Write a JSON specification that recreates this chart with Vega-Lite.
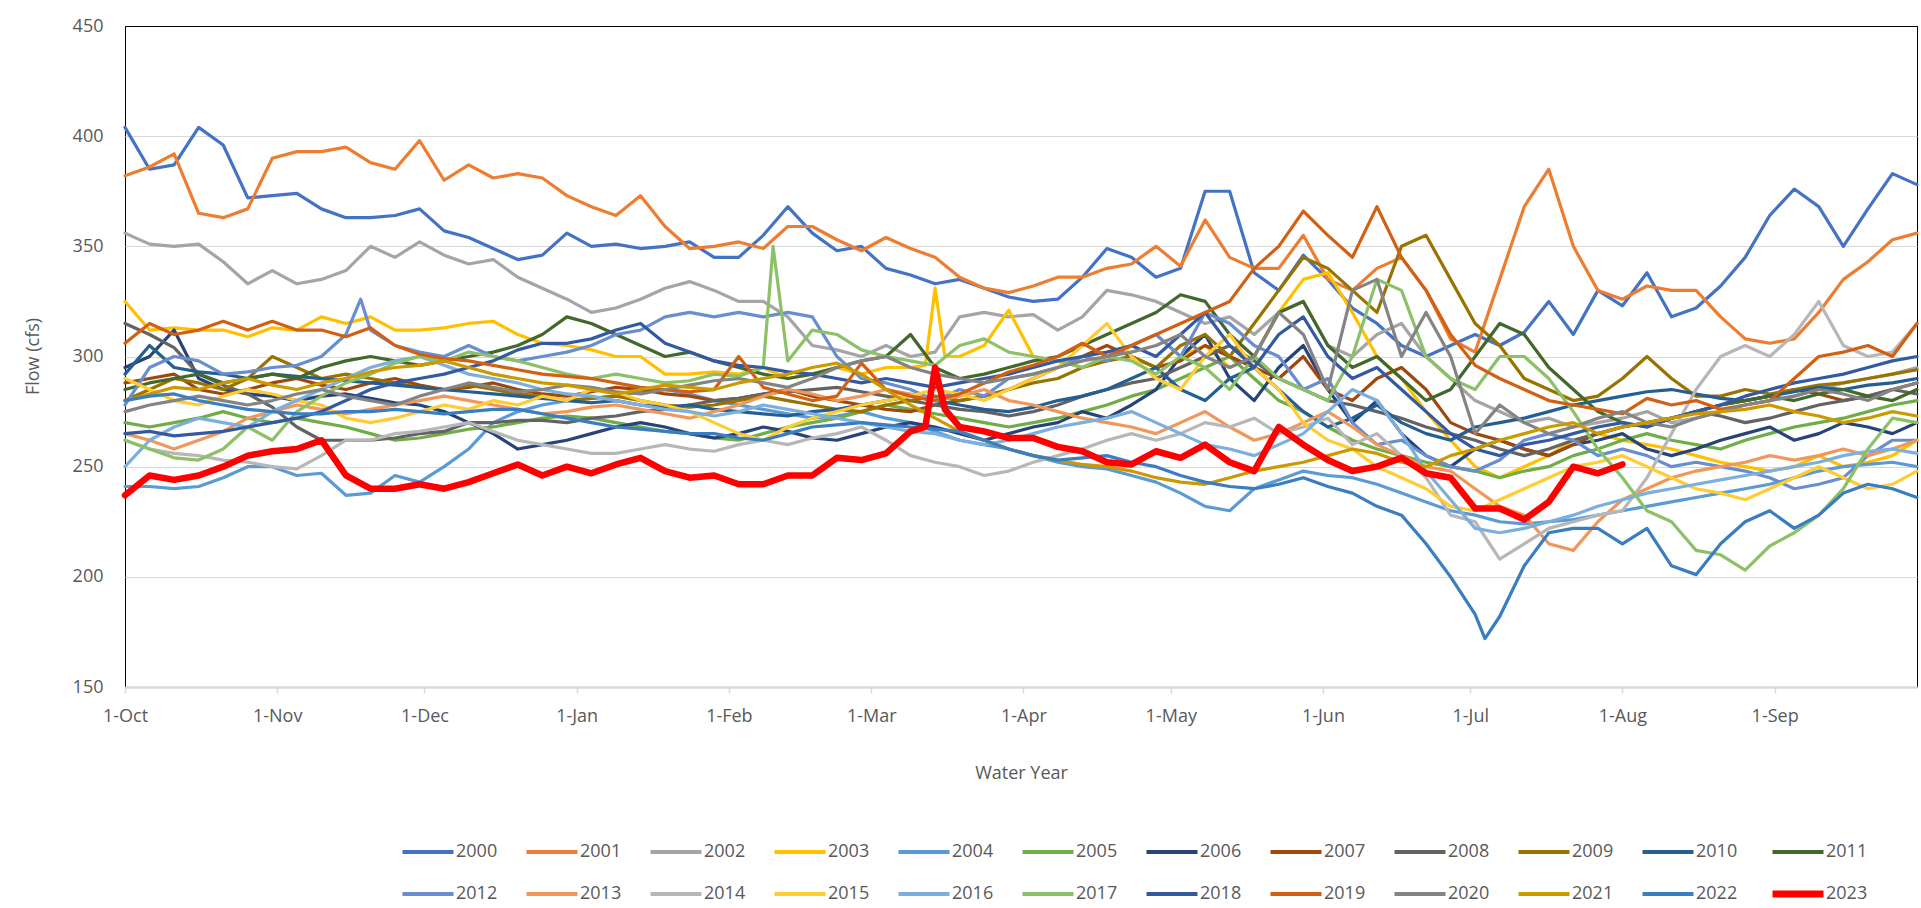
{
"$schema": "https://vega.github.io/schema/vega-lite/v6.json",
"width": 1792, "height": 661,
"autosize": {"type": "none"},
"padding": {"left": 125, "top": 26, "right": 4, "bottom": 221},
"background": "white",
"config": {
  "font": "Open Sans",
  "view": {"stroke": "#000000", "strokeWidth": 1},
  "axis": {"labelFont": "Open Sans", "labelFontSize": 18, "labelColor": "#595959", "titleFont": "Open Sans", "titleFontSize": 18, "titleFontWeight": "normal", "titleColor": "#595959"}
},
"data": {"values": [
{"d":"1999/10/01","2000":404,"2001":382,"2002":356,"2003":325,"2004":241,"2005":270,"2006":295,"2007":288,"2008":315,"2009":280,"2010":292,"2011":285,"2012":278,"2013":265,"2014":262,"2015":290,"2016":250,"2017":262,"2018":265,"2019":306,"2020":275,"2021":280,"2022":280,"2023":237},
{"d":"1999/10/06","2000":385,"2001":386,"2002":351,"2003":312,"2004":241,"2005":268,"2006":300,"2007":290,"2008":310,"2009":285,"2010":305,"2011":288,"2012":295,"2013":262,"2014":258,"2015":285,"2016":262,"2017":258,"2018":266,"2019":315,"2020":278,"2021":283,"2022":282,"2023":246},
{"d":"1999/10/11","2000":387,"2001":392,"2002":350,"2003":313,"2004":240,"2005":270,"2006":312,"2007":292,"2008":304,"2009":290,"2010":295,"2011":290,"2012":300,"2013":258,"2014":256,"2015":280,"2016":268,"2017":254,"2018":264,"2019":310,"2020":280,"2021":286,"2022":283,"2023":244},
{"d":"1999/10/16","2000":404,"2001":365,"2002":351,"2003":312,"2004":241,"2005":272,"2006":290,"2007":285,"2008":292,"2009":288,"2010":293,"2011":292,"2012":298,"2013":262,"2014":255,"2015":278,"2016":272,"2017":253,"2018":265,"2019":312,"2020":282,"2021":285,"2022":280,"2023":246},
{"d":"1999/10/21","2000":396,"2001":363,"2002":343,"2003":312,"2004":245,"2005":275,"2006":285,"2007":283,"2008":287,"2009":285,"2010":292,"2011":288,"2012":292,"2013":266,"2014":253,"2015":282,"2016":270,"2017":258,"2018":266,"2019":316,"2020":280,"2021":288,"2022":278,"2023":250},
{"d":"1999/10/26","2000":372,"2001":367,"2002":333,"2003":309,"2004":250,"2005":272,"2006":283,"2007":285,"2008":283,"2009":290,"2010":290,"2011":290,"2012":293,"2013":272,"2014":252,"2015":285,"2016":268,"2017":268,"2018":268,"2019":312,"2020":278,"2021":290,"2022":276,"2023":255},
{"d":"1999/10/31","2000":373,"2001":390,"2002":339,"2003":313,"2004":250,"2005":270,"2006":282,"2007":288,"2008":277,"2009":300,"2010":292,"2011":292,"2012":295,"2013":275,"2014":250,"2015":283,"2016":275,"2017":262,"2018":270,"2019":316,"2020":280,"2021":287,"2022":275,"2023":257},
{"d":"1999/11/05","2000":374,"2001":393,"2002":333,"2003":312,"2004":246,"2005":272,"2006":280,"2007":290,"2008":268,"2009":295,"2010":291,"2011":290,"2012":296,"2013":278,"2014":249,"2015":280,"2016":280,"2017":275,"2018":272,"2019":312,"2020":283,"2021":285,"2022":274,"2023":258},
{"d":"1999/11/10","2000":367,"2001":393,"2002":335,"2003":318,"2004":247,"2005":270,"2006":282,"2007":287,"2008":262,"2009":290,"2010":290,"2011":295,"2012":300,"2013":276,"2014":255,"2015":278,"2016":285,"2017":282,"2018":275,"2019":312,"2020":285,"2021":288,"2022":274,"2023":262},
{"d":"1999/11/15","2000":363,"2001":395,"2002":339,"2003":315,"2004":237,"2005":268,"2006":283,"2007":285,"2008":262,"2009":292,"2010":289,"2011":298,"2012":310,"2013":274,"2014":262,"2015":272,"2016":290,"2017":288,"2018":280,"2019":309,"2020":282,"2021":290,"2022":275,"2023":246},
{"d":"1999/11/20","2000":363,"2001":388,"2002":350,"2003":318,"2004":238,"2005":265,"2006":281,"2007":288,"2008":262,"2009":290,"2010":288,"2011":300,"2012":312,"2013":276,"2014":262,"2015":270,"2016":295,"2017":292,"2018":285,"2019":313,"2020":280,"2021":293,"2022":275,"2023":240},
{"d":"1999/11/25","2000":364,"2001":385,"2002":345,"2003":312,"2004":246,"2005":262,"2006":279,"2007":290,"2008":263,"2009":288,"2010":287,"2011":298,"2012":305,"2013":278,"2014":265,"2015":272,"2016":298,"2017":297,"2018":288,"2019":305,"2020":278,"2021":295,"2022":276,"2023":240},
{"d":"1999/11/30","2000":367,"2001":398,"2002":352,"2003":312,"2004":243,"2005":263,"2006":278,"2007":287,"2008":265,"2009":286,"2010":286,"2011":296,"2012":302,"2013":280,"2014":266,"2015":275,"2016":300,"2017":300,"2018":290,"2019":301,"2020":282,"2021":296,"2022":275,"2023":242},
{"d":"1999/12/05","2000":357,"2001":380,"2002":346,"2003":313,"2004":250,"2005":265,"2006":275,"2007":285,"2008":266,"2009":285,"2010":285,"2011":298,"2012":300,"2013":282,"2014":268,"2015":278,"2016":296,"2017":298,"2018":292,"2019":299,"2020":285,"2021":298,"2022":274,"2023":240},
{"d":"1999/12/10","2000":354,"2001":387,"2002":342,"2003":315,"2004":258,"2005":267,"2006":270,"2007":286,"2008":270,"2009":287,"2010":284,"2011":300,"2012":305,"2013":280,"2014":270,"2015":276,"2016":292,"2017":302,"2018":295,"2019":298,"2020":288,"2021":295,"2022":275,"2023":243},
{"d":"1999/12/15","2000":349,"2001":381,"2002":344,"2003":316,"2004":270,"2005":268,"2006":265,"2007":288,"2008":270,"2009":285,"2010":283,"2011":302,"2012":300,"2013":278,"2014":266,"2015":280,"2016":290,"2017":300,"2018":298,"2019":296,"2020":286,"2021":292,"2022":276,"2023":247},
{"d":"1999/12/20","2000":344,"2001":383,"2002":336,"2003":310,"2004":275,"2005":270,"2006":258,"2007":285,"2008":271,"2009":283,"2010":282,"2011":305,"2012":298,"2013":276,"2014":262,"2015":278,"2016":288,"2017":298,"2018":303,"2019":294,"2020":284,"2021":290,"2022":276,"2023":251},
{"d":"1999/12/25","2000":346,"2001":381,"2002":331,"2003":306,"2004":278,"2005":272,"2006":260,"2007":283,"2008":271,"2009":282,"2010":281,"2011":310,"2012":300,"2013":274,"2014":260,"2015":282,"2016":285,"2017":295,"2018":306,"2019":292,"2020":285,"2021":288,"2022":274,"2023":246},
{"d":"1999/12/30","2000":356,"2001":373,"2002":326,"2003":305,"2004":280,"2005":273,"2006":262,"2007":282,"2008":270,"2009":280,"2010":280,"2011":318,"2012":302,"2013":275,"2014":258,"2015":280,"2016":283,"2017":292,"2018":306,"2019":291,"2020":287,"2021":287,"2022":272,"2023":250},
{"d":"2000/01/04","2000":350,"2001":368,"2002":320,"2003":303,"2004":281,"2005":272,"2006":265,"2007":284,"2008":272,"2009":281,"2010":279,"2011":315,"2012":305,"2013":277,"2014":256,"2015":285,"2016":282,"2017":290,"2018":308,"2019":290,"2020":286,"2021":285,"2022":270,"2023":247},
{"d":"2000/01/09","2000":351,"2001":364,"2002":322,"2003":300,"2004":282,"2005":270,"2006":268,"2007":286,"2008":273,"2009":282,"2010":280,"2011":310,"2012":310,"2013":278,"2014":256,"2015":284,"2016":280,"2017":292,"2018":312,"2019":288,"2020":284,"2021":283,"2022":268,"2023":251},
{"d":"2000/01/14","2000":349,"2001":373,"2002":326,"2003":300,"2004":284,"2005":268,"2006":270,"2007":285,"2008":275,"2009":280,"2010":278,"2011":305,"2012":312,"2013":276,"2014":258,"2015":280,"2016":278,"2017":290,"2018":315,"2019":286,"2020":283,"2021":285,"2022":267,"2023":254},
{"d":"2000/01/19","2000":350,"2001":359,"2002":331,"2003":292,"2004":285,"2005":266,"2006":268,"2007":283,"2008":276,"2009":278,"2010":277,"2011":300,"2012":318,"2013":274,"2014":260,"2015":278,"2016":276,"2017":288,"2018":306,"2019":285,"2020":285,"2021":287,"2022":266,"2023":248},
{"d":"2000/01/24","2000":352,"2001":349,"2002":334,"2003":292,"2004":283,"2005":265,"2006":265,"2007":282,"2008":278,"2009":277,"2010":278,"2011":302,"2012":320,"2013":272,"2014":258,"2015":275,"2016":275,"2017":289,"2018":302,"2019":284,"2020":287,"2021":286,"2022":265,"2023":245},
{"d":"2000/01/29","2000":345,"2001":350,"2002":330,"2003":293,"2004":280,"2005":263,"2006":263,"2007":280,"2008":280,"2009":278,"2010":276,"2011":298,"2012":318,"2013":275,"2014":257,"2015":270,"2016":273,"2017":292,"2018":298,"2019":285,"2020":289,"2021":285,"2022":265,"2023":246},
{"d":"2000/02/03","2000":345,"2001":352,"2002":325,"2003":292,"2004":278,"2005":262,"2006":265,"2007":281,"2008":281,"2009":280,"2010":275,"2011":295,"2012":320,"2013":278,"2014":260,"2015":265,"2016":275,"2017":291,"2018":296,"2019":300,"2020":290,"2021":288,"2022":263,"2023":242},
{"d":"2000/02/08","2000":355,"2001":349,"2002":325,"2003":295,"2004":276,"2005":265,"2006":268,"2007":283,"2008":283,"2009":282,"2010":274,"2011":292,"2012":318,"2013":282,"2014":262,"2015":262,"2016":278,"2017":295,"2018":295,"2019":286,"2020":288,"2021":290,"2022":262,"2023":242},
{"d":"2000/02/13","2000":368,"2001":359,"2002":318,"2003":290,"2004":274,"2005":268,"2006":266,"2007":285,"2008":284,"2009":280,"2010":273,"2011":290,"2012":320,"2013":285,"2014":260,"2015":268,"2016":276,"2017":298,"2018":293,"2019":283,"2020":286,"2021":292,"2022":265,"2023":246},
{"d":"2000/02/18","2000":356,"2001":359,"2002":305,"2003":292,"2004":272,"2005":270,"2006":263,"2007":282,"2008":285,"2009":278,"2010":275,"2011":292,"2012":318,"2013":283,"2014":263,"2015":272,"2016":274,"2017":312,"2018":292,"2019":280,"2020":290,"2021":295,"2022":268,"2023":246},
{"d":"2000/02/23","2000":348,"2001":353,"2002":303,"2003":295,"2004":273,"2005":272,"2006":262,"2007":280,"2008":286,"2009":276,"2010":276,"2011":295,"2012":300,"2013":280,"2014":265,"2015":275,"2016":272,"2017":310,"2018":290,"2019":282,"2020":295,"2021":297,"2022":269,"2023":254},
{"d":"2000/02/28","2000":350,"2001":348,"2002":300,"2003":292,"2004":275,"2005":275,"2006":265,"2007":278,"2008":284,"2009":275,"2010":278,"2011":298,"2012":290,"2013":282,"2014":268,"2015":278,"2016":270,"2017":303,"2018":288,"2019":297,"2020":298,"2021":292,"2022":270,"2023":253},
{"d":"2000/03/04","2000":340,"2001":354,"2002":305,"2003":295,"2004":272,"2005":278,"2006":268,"2007":276,"2008":282,"2009":278,"2010":280,"2011":300,"2012":288,"2013":285,"2014":262,"2015":280,"2016":268,"2017":300,"2018":290,"2019":285,"2020":300,"2021":285,"2022":269,"2023":256},
{"d":"2000/03/09","2000":337,"2001":349,"2002":300,"2003":295,"2004":270,"2005":276,"2006":270,"2007":275,"2008":280,"2009":280,"2010":282,"2011":310,"2012":285,"2013":283,"2014":255,"2015":282,"2016":266,"2017":298,"2018":288,"2019":282,"2020":295,"2021":278,"2022":268,"2023":266},
{"d":"2000/03/14","2000":333,"2001":345,"2002":302,"2003":331,"2004":266,"2005":274,"2006":268,"2007":278,"2008":278,"2009":282,"2010":280,"2011":295,"2012":280,"2013":280,"2014":252,"2015":285,"2016":265,"2017":296,"2018":286,"2019":280,"2020":292,"2021":272,"2022":267,"2023":295},
{"d":"2000/03/19","2000":335,"2001":336,"2002":318,"2003":300,"2004":262,"2005":272,"2006":265,"2007":280,"2008":276,"2009":280,"2010":278,"2011":290,"2012":285,"2013":282,"2014":250,"2015":283,"2016":262,"2017":305,"2018":288,"2019":283,"2020":290,"2021":266,"2022":266,"2023":268},
{"d":"2000/03/24","2000":331,"2001":331,"2002":320,"2003":305,"2004":260,"2005":270,"2006":262,"2007":282,"2008":275,"2009":282,"2010":276,"2011":292,"2012":282,"2013":285,"2014":246,"2015":280,"2016":260,"2017":308,"2018":290,"2019":288,"2020":288,"2021":262,"2022":262,"2023":266},
{"d":"2000/03/29","2000":327,"2001":329,"2002":318,"2003":321,"2004":258,"2005":268,"2006":265,"2007":285,"2008":273,"2009":285,"2010":275,"2011":295,"2012":290,"2013":280,"2014":248,"2015":285,"2016":262,"2017":302,"2018":292,"2019":293,"2020":290,"2021":258,"2022":258,"2023":263},
{"d":"2000/04/03","2000":325,"2001":332,"2002":319,"2003":300,"2004":255,"2005":270,"2006":268,"2007":290,"2008":275,"2009":288,"2010":277,"2011":298,"2012":292,"2013":278,"2014":252,"2015":290,"2016":265,"2017":300,"2018":295,"2019":296,"2020":292,"2021":255,"2022":255,"2023":263},
{"d":"2000/04/08","2000":326,"2001":336,"2002":312,"2003":298,"2004":252,"2005":272,"2006":270,"2007":295,"2008":278,"2009":290,"2010":280,"2011":300,"2012":295,"2013":275,"2014":255,"2015":295,"2016":268,"2017":298,"2018":298,"2019":300,"2020":295,"2021":253,"2022":253,"2023":259},
{"d":"2000/04/13","2000":336,"2001":336,"2002":318,"2003":295,"2004":250,"2005":275,"2006":275,"2007":300,"2008":282,"2009":295,"2010":282,"2011":305,"2012":300,"2013":272,"2014":258,"2015":305,"2016":270,"2017":295,"2018":300,"2019":306,"2020":298,"2021":251,"2022":254,"2023":257},
{"d":"2000/04/18","2000":349,"2001":340,"2002":330,"2003":300,"2004":249,"2005":278,"2006":272,"2007":305,"2008":285,"2009":298,"2010":285,"2011":310,"2012":298,"2013":270,"2014":262,"2015":315,"2016":272,"2017":300,"2018":302,"2019":300,"2020":300,"2021":250,"2022":255,"2023":252},
{"d":"2000/04/23","2000":345,"2001":342,"2002":328,"2003":305,"2004":246,"2005":282,"2006":278,"2007":300,"2008":288,"2009":300,"2010":290,"2011":315,"2012":305,"2013":268,"2014":265,"2015":300,"2016":275,"2017":298,"2018":305,"2019":305,"2020":302,"2021":248,"2022":252,"2023":251},
{"d":"2000/04/28","2000":336,"2001":350,"2002":325,"2003":310,"2004":243,"2005":285,"2006":285,"2007":295,"2008":290,"2009":295,"2010":295,"2011":320,"2012":310,"2013":265,"2014":262,"2015":290,"2016":270,"2017":292,"2018":300,"2019":310,"2020":305,"2021":245,"2022":250,"2023":257},
{"d":"2000/05/03","2000":340,"2001":341,"2002":320,"2003":300,"2004":238,"2005":290,"2006":300,"2007":298,"2008":295,"2009":305,"2010":285,"2011":328,"2012":300,"2013":270,"2014":265,"2015":285,"2016":265,"2017":300,"2018":310,"2019":315,"2020":310,"2021":243,"2022":246,"2023":254},
{"d":"2000/05/08","2000":375,"2001":362,"2002":315,"2003":305,"2004":232,"2005":295,"2006":310,"2007":305,"2008":300,"2009":310,"2010":280,"2011":325,"2012":320,"2013":275,"2014":270,"2015":300,"2016":260,"2017":295,"2018":320,"2019":320,"2020":300,"2021":242,"2022":243,"2023":260},
{"d":"2000/05/13","2000":375,"2001":345,"2002":318,"2003":295,"2004":230,"2005":300,"2006":290,"2007":300,"2008":305,"2009":300,"2010":290,"2011":310,"2012":315,"2013":268,"2014":268,"2015":310,"2016":258,"2017":285,"2018":305,"2019":325,"2020":295,"2021":245,"2022":241,"2023":252},
{"d":"2000/05/18","2000":338,"2001":340,"2002":310,"2003":300,"2004":240,"2005":290,"2006":280,"2007":295,"2008":298,"2009":315,"2010":295,"2011":300,"2012":305,"2013":262,"2014":272,"2015":295,"2016":255,"2017":300,"2018":295,"2019":340,"2020":300,"2021":248,"2022":240,"2023":248},
{"d":"2000/05/23","2000":330,"2001":340,"2002":320,"2003":320,"2004":244,"2005":280,"2006":295,"2007":290,"2008":290,"2009":330,"2010":285,"2011":320,"2012":300,"2013":265,"2014":265,"2015":285,"2016":260,"2017":290,"2018":310,"2019":350,"2020":320,"2021":250,"2022":242,"2023":268},
{"d":"2000/05/28","2000":346,"2001":355,"2002":325,"2003":335,"2004":248,"2005":275,"2006":305,"2007":300,"2008":285,"2009":345,"2010":275,"2011":325,"2012":285,"2013":270,"2014":268,"2015":270,"2016":265,"2017":285,"2018":318,"2019":366,"2020":310,"2021":252,"2022":245,"2023":260},
{"d":"2000/06/02","2000":335,"2001":335,"2002":305,"2003":338,"2004":246,"2005":268,"2006":285,"2007":285,"2008":280,"2009":340,"2010":268,"2011":305,"2012":290,"2013":275,"2014":272,"2015":262,"2016":275,"2017":280,"2018":300,"2019":355,"2020":285,"2021":255,"2022":241,"2023":253},
{"d":"2000/06/07","2000":322,"2001":330,"2002":300,"2003":320,"2004":245,"2005":262,"2006":270,"2007":280,"2008":278,"2009":330,"2010":272,"2011":295,"2012":270,"2013":268,"2014":260,"2015":258,"2016":285,"2017":300,"2018":290,"2019":345,"2020":330,"2021":258,"2022":238,"2023":248},
{"d":"2000/06/12","2000":315,"2001":340,"2002":310,"2003":300,"2004":242,"2005":258,"2006":280,"2007":290,"2008":275,"2009":320,"2010":278,"2011":300,"2012":260,"2013":260,"2014":265,"2015":250,"2016":280,"2017":335,"2018":295,"2019":368,"2020":335,"2021":256,"2022":232,"2023":250},
{"d":"2000/06/17","2000":305,"2001":345,"2002":315,"2003":290,"2004":238,"2005":255,"2006":265,"2007":295,"2008":272,"2009":350,"2010":270,"2011":290,"2012":262,"2013":255,"2014":255,"2015":245,"2016":265,"2017":330,"2018":285,"2019":345,"2020":300,"2021":252,"2022":228,"2023":254},
{"d":"2000/06/22","2000":300,"2001":330,"2002":300,"2003":275,"2004":234,"2005":252,"2006":255,"2007":285,"2008":268,"2009":355,"2010":265,"2011":280,"2012":255,"2013":250,"2014":245,"2015":240,"2016":248,"2017":300,"2018":275,"2019":330,"2020":320,"2021":250,"2022":215,"2023":247},
{"d":"2000/06/27","2000":305,"2001":308,"2002":290,"2003":262,"2004":230,"2005":250,"2006":250,"2007":270,"2008":265,"2009":335,"2010":262,"2011":285,"2012":250,"2013":248,"2014":228,"2015":232,"2016":235,"2017":290,"2018":265,"2019":310,"2020":300,"2021":255,"2022":200,"2023":245},
{"d":"2000/07/02","2000":310,"2001":302,"2002":280,"2003":250,"2004":228,"2005":248,"2006":258,"2007":265,"2008":262,"2009":315,"2010":268,"2011":300,"2012":248,"2013":240,"2014":225,"2015":230,"2016":222,"2017":285,"2018":258,"2019":296,"2020":265,"2021":258,"2022":183,"2023":231},
{"d":"2000/07/07","2000":305,"2001":335,"2002":275,"2003":245,"2004":225,"2005":245,"2006":262,"2007":262,"2008":258,"2009":305,"2010":270,"2011":315,"2012":253,"2013":232,"2014":208,"2015":235,"2016":220,"2017":300,"2018":255,"2019":290,"2020":278,"2021":262,"2022":182,"2023":231},
{"d":"2000/07/12","2000":311,"2001":368,"2002":270,"2003":250,"2004":224,"2005":248,"2006":258,"2007":258,"2008":255,"2009":290,"2010":272,"2011":310,"2012":262,"2013":228,"2014":215,"2015":240,"2016":222,"2017":300,"2018":260,"2019":285,"2020":270,"2021":265,"2022":205,"2023":226},
{"d":"2000/07/17","2000":325,"2001":385,"2002":272,"2003":255,"2004":225,"2005":250,"2006":255,"2007":255,"2008":258,"2009":285,"2010":275,"2011":295,"2012":265,"2013":215,"2014":222,"2015":245,"2016":225,"2017":290,"2018":262,"2019":280,"2020":265,"2021":268,"2022":220,"2023":234},
{"d":"2000/07/22","2000":310,"2001":350,"2002":268,"2003":262,"2004":226,"2005":255,"2006":260,"2007":260,"2008":262,"2009":280,"2010":278,"2011":285,"2012":262,"2013":212,"2014":225,"2015":250,"2016":228,"2017":275,"2018":265,"2019":278,"2020":268,"2021":270,"2022":222,"2023":250},
{"d":"2000/07/27","2000":330,"2001":330,"2002":270,"2003":265,"2004":228,"2005":258,"2006":262,"2007":265,"2008":265,"2009":282,"2010":280,"2011":275,"2012":255,"2013":225,"2014":228,"2015":252,"2016":232,"2017":258,"2018":268,"2019":276,"2020":272,"2021":265,"2022":222,"2023":247},
{"d":"2000/08/01","2000":323,"2001":326,"2002":272,"2003":262,"2004":230,"2005":262,"2006":265,"2007":268,"2008":268,"2009":290,"2010":282,"2011":270,"2012":258,"2013":235,"2014":230,"2015":255,"2016":235,"2017":245,"2018":270,"2019":274,"2020":275,"2021":268,"2022":215,"2023":251},
{"d":"2000/08/06","2000":338,"2001":332,"2002":275,"2003":260,"2004":232,"2005":265,"2006":258,"2007":270,"2008":270,"2009":300,"2010":284,"2011":268,"2012":255,"2013":240,"2014":245,"2015":250,"2016":238,"2017":230,"2018":268,"2019":281,"2020":270,"2021":270,"2022":222},
{"d":"2000/08/11","2000":318,"2001":330,"2002":270,"2003":258,"2004":234,"2005":262,"2006":255,"2007":272,"2008":272,"2009":290,"2010":285,"2011":272,"2012":250,"2013":245,"2014":265,"2015":245,"2016":240,"2017":225,"2018":272,"2019":278,"2020":268,"2021":272,"2022":205},
{"d":"2000/08/16","2000":322,"2001":330,"2002":272,"2003":255,"2004":236,"2005":260,"2006":258,"2007":275,"2008":275,"2009":282,"2010":283,"2011":275,"2012":252,"2013":248,"2014":285,"2015":240,"2016":242,"2017":212,"2018":275,"2019":280,"2020":272,"2021":274,"2022":201},
{"d":"2000/08/21","2000":332,"2001":318,"2002":275,"2003":252,"2004":238,"2005":258,"2006":262,"2007":278,"2008":273,"2009":282,"2010":281,"2011":278,"2012":250,"2013":250,"2014":300,"2015":238,"2016":244,"2017":210,"2018":278,"2019":276,"2020":275,"2021":275,"2022":215},
{"d":"2000/08/26","2000":345,"2001":308,"2002":278,"2003":250,"2004":240,"2005":262,"2006":265,"2007":280,"2008":270,"2009":285,"2010":280,"2011":280,"2012":248,"2013":252,"2014":305,"2015":235,"2016":246,"2017":203,"2018":282,"2019":278,"2020":278,"2021":276,"2022":225},
{"d":"2000/08/31","2000":364,"2001":306,"2002":280,"2003":248,"2004":242,"2005":265,"2006":268,"2007":282,"2008":272,"2009":283,"2010":282,"2011":282,"2012":245,"2013":255,"2014":300,"2015":240,"2016":248,"2017":214,"2018":285,"2019":280,"2020":280,"2021":278,"2022":230},
{"d":"2000/09/05","2000":376,"2001":308,"2002":282,"2003":250,"2004":245,"2005":268,"2006":262,"2007":285,"2008":275,"2009":285,"2010":284,"2011":280,"2012":240,"2013":253,"2014":310,"2015":245,"2016":250,"2017":220,"2018":288,"2019":290,"2020":282,"2021":275,"2022":222},
{"d":"2000/09/10","2000":368,"2001":320,"2002":285,"2003":255,"2004":248,"2005":270,"2006":265,"2007":283,"2008":278,"2009":287,"2010":286,"2011":283,"2012":242,"2013":255,"2014":325,"2015":250,"2016":252,"2017":228,"2018":290,"2019":300,"2020":285,"2021":273,"2022":228},
{"d":"2000/09/15","2000":350,"2001":335,"2002":288,"2003":250,"2004":250,"2005":272,"2006":270,"2007":280,"2008":280,"2009":288,"2010":285,"2011":285,"2012":245,"2013":258,"2014":305,"2015":245,"2016":255,"2017":240,"2018":292,"2019":302,"2020":283,"2021":270,"2022":238},
{"d":"2000/09/20","2000":367,"2001":343,"2002":290,"2003":252,"2004":251,"2005":275,"2006":268,"2007":282,"2008":282,"2009":290,"2010":287,"2011":282,"2012":255,"2013":255,"2014":300,"2015":240,"2016":257,"2017":258,"2018":295,"2019":305,"2020":280,"2021":272,"2022":242},
{"d":"2000/09/25","2000":383,"2001":353,"2002":292,"2003":255,"2004":252,"2005":278,"2006":265,"2007":285,"2008":285,"2009":292,"2010":288,"2011":280,"2012":262,"2013":258,"2014":302,"2015":242,"2016":258,"2017":272,"2018":298,"2019":300,"2020":285,"2021":275,"2022":240},
{"d":"2000/09/30","2000":378,"2001":356,"2002":295,"2003":262,"2004":250,"2005":280,"2006":270,"2007":288,"2008":283,"2009":294,"2010":290,"2011":285,"2012":262,"2013":262,"2014":315,"2015":248,"2016":256,"2017":270,"2018":300,"2019":315,"2020":288,"2021":273,"2022":236},
{"d":"1999/11/18","2012":326},
{"d":"2000/02/10","2017":350},
{"d":"2000/03/12","2003":296,"2023":268},
{"d":"2000/03/16","2003":300,"2023":276},
{"d":"2000/07/04","2022":172}
]},
"transform": [
  {"fold": ["2000","2001","2002","2003","2004","2005","2006","2007","2008","2009","2010","2011","2012","2013","2014","2015","2016","2017","2018","2019","2020","2021","2022","2023"], "as": ["year", "flow"]},
  {"filter": "isValid(datum.flow)"}
],
"encoding": {
  "x": {"field": "d", "type": "temporal",
    "scale": {"domain": [{"year": 1999, "month": "oct", "date": 1}, {"year": 2000, "month": "sep", "date": 30}]},
    "axis": {"title": "Water Year", "format": "%-d-%b", "tickCount": {"interval": "month", "step": 1}, "grid": false,
      "domainColor": "#D9D9D9", "domainWidth": 2.5, "tickColor": "#D9D9D9", "tickWidth": 1.5, "tickSize": 6,
      "labelPadding": 14, "labelFlush": false, "labelOverlap": false,
      "titleX": 896, "titleY": 86, "titleBaseline": "middle"}},
  "y": {"field": "flow", "type": "quantitative",
    "scale": {"domain": [150, 450], "nice": false, "zero": false},
    "axis": {"title": "Flow (cfs)", "values": [150, 200, 250, 300, 350, 400, 450], "grid": true,
      "gridColor": {"condition": {"test": "datum.value === 450", "value": "#000000"}, "value": "#D9D9D9"},
      "gridWidth": 1, "domain": false, "ticks": false, "tickSize": 0, "labelPadding": 22,
      "titleX": -92, "titleY": 330, "titleBaseline": "middle", "titleAngle": -90}},
  "color": {"field": "year", "type": "nominal",
    "scale": {"domain": ["2000","2001","2002","2003","2004","2005","2006","2007","2008","2009","2010","2011","2012","2013","2014","2015","2016","2017","2018","2019","2020","2021","2022","2023"],
      "range": ["#4472C4","#ED7D31","#A5A5A5","#FFC000","#5B9BD5","#70AD47","#264478","#9E480E","#636363","#997300","#255E91","#43682B","#698ED0","#F1975A","#B7B7B7","#FFCD33","#7CAFDD","#8CC168","#335AA1","#D26012","#848484","#CC9A00","#3A7DC1","#FF0000"]},
    "legend": {"title": null, "orient": "none", "legendX": 294, "legendY": 817, "columns": 12, "direction": "horizontal",
      "symbolType": "stroke", "symbolSize": 2601, "symbolStrokeWidth": 4, "labelFont": "Open Sans", "labelFontSize": 18, "labelColor": "#595959",
      "labelOffset": 19, "columnPadding": 20, "rowPadding": 19, "padding": 0,
      "encode": {"symbols": {"update": {"strokeWidth": {"signal": "datum.value === '2023' ? 7 : 4"}}}}}}
},
"layer": [
  {"transform": [{"filter": "datum.year !== '2023'"}], "mark": {"type": "line", "strokeWidth": 3.2, "strokeJoin": "round", "strokeCap": "round"}},
  {"transform": [{"filter": "datum.year === '2023'"}], "mark": {"type": "line", "strokeWidth": 6.5, "strokeJoin": "round", "strokeCap": "round"}}
]
}
